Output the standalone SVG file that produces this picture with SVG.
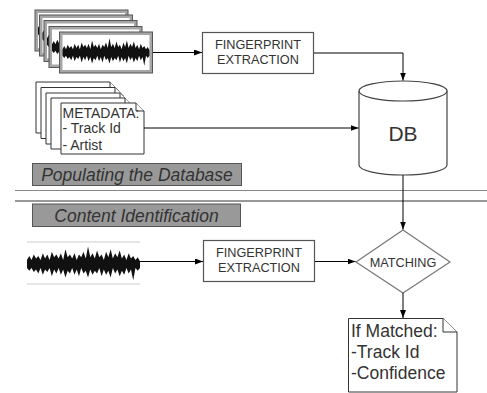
<svg xmlns="http://www.w3.org/2000/svg" xmlns:xlink="http://www.w3.org/1999/xlink" width="487" height="393" viewBox="0 0 487 393">
<style>
.lbl{font-family:"Liberation Sans",Arial,sans-serif;fill:#333}
.box{fill:#fff;stroke:#555;stroke-width:1.2}
.frame{fill:#a6a6a6;stroke:#555;stroke-width:1}
.doc{fill:#fff;stroke:#333;stroke-width:1}
.band{fill:#999;stroke:#555;stroke-width:1}
.conn{fill:none;stroke:#000;stroke-width:1}
.sec{font-family:"Liberation Sans",Arial,sans-serif;font-style:italic;font-size:17.5px;fill:#333;text-anchor:middle}
</style>
<defs>
<marker id="ah" markerWidth="8" markerHeight="6" refX="8" refY="3" orient="auto" markerUnits="userSpaceOnUse">
<path d="M0,0 L8,3 L0,6 Z" fill="#000"/>
</marker>
<path id="wave" fill="#111" d="M0,0 L0,-3 2,-6 4,-3 6,-7 8,-4 10,-6 12,-3 14,-8 16,-4 18,-7 20,-3 22,-9 24,-5 26,-7 28,-4 30,-8 32,-3 34,-11 36,-5 38,-7 40,-4 42,-8 44,-3 46,-7 48,-5 50,-9 52,-4 54,-13 56,-5 58,-8 60,-4 62,-10 64,-5 66,-7 68,-3 70,-9 72,-5 74,-11 76,-4 78,-8 80,-5 82,-10 84,-4 86,-7 88,-3 90,-8 92,-4 94,-6 96,-3 98,-5 100,-2 L100,3 98,5 96,3 94,12 92,4 90,7 88,3 86,8 84,5 82,9 80,4 78,7 76,3 74,10 72,5 70,8 68,4 66,9 64,3 62,7 60,5 58,8 56,4 54,10 52,5 50,7 48,3 46,9 44,4 42,8 40,3 38,7 36,5 34,10 32,4 30,8 28,3 26,7 24,4 22,9 20,3 18,6 16,4 14,8 12,3 10,7 8,4 6,6 4,3 2,5 0,3 Z"/>
</defs>

<g id="audio-stack">
<rect class="frame" x="35" y="10" width="93" height="41"/><rect x="38" y="13" width="87" height="35" fill="#fff"/><use xlink:href="#wave" transform="translate(38,31) scale(0.87,1.1)"/>
<rect class="frame" x="39.5" y="15" width="93" height="41"/><rect x="42.5" y="18" width="87" height="35" fill="#fff"/><use xlink:href="#wave" transform="translate(42.5,36) scale(0.87,1.1)"/>
<rect class="frame" x="44" y="20.5" width="93" height="41"/><rect x="47" y="23.5" width="87" height="35" fill="#fff"/><use xlink:href="#wave" transform="translate(47,41.5) scale(0.87,1.1)"/>
<rect class="frame" x="49" y="26.5" width="93" height="41"/><rect x="52" y="29.5" width="87" height="35" fill="#fff"/><use xlink:href="#wave" transform="translate(52,47.5) scale(0.87,1.1)"/>
<rect class="frame" x="59.5" y="32" width="93" height="41"/><rect x="62.5" y="35" width="87" height="35" fill="#fff"/><use xlink:href="#wave" transform="translate(62.5,52.5) scale(0.87,1.1)"/>
</g>

<g id="metadata-stack">
<path class="doc" d="M36,82 H110 L118,90 V133 H36 Z"/><path class="doc" d="M110,82 V90 H118"/>
<path class="doc" d="M41,87.5 H115 L123,95.5 V138.5 H41 Z"/><path class="doc" d="M115,87.5 V95.5 H123"/>
<path class="doc" d="M46,93 H120 L128,101 V144 H46 Z"/><path class="doc" d="M120,93 V101 H128"/>
<path class="doc" d="M51,98 H125 L133,106 V149 H51 Z"/><path class="doc" d="M125,98 V106 H133"/>
<path class="doc" d="M61,103 H136 L144,111 V154 H61 Z"/><path class="doc" d="M136,103 V111 H144"/>
<text class="lbl" x="62.5" y="117.5" font-size="14" fill="#222">METADATA:</text>
<text class="lbl" x="62.5" y="133" font-size="14">- Track Id</text>
<text class="lbl" x="62.5" y="149.5" font-size="14">- Artist</text>
</g>

<g id="fp1">
<rect class="box" x="202.5" y="32.5" width="111" height="41"/>
<text class="lbl" x="258" y="48.5" font-size="12.7" text-anchor="middle">FINGERPRINT</text>
<text class="lbl" x="258" y="64" font-size="12.7" text-anchor="middle">EXTRACTION</text>
</g>

<g id="db">
<path d="M359,91 V165 A44,10 0 0 0 447,165 V91" fill="#fff" stroke="#444" stroke-width="1.2"/>
<ellipse cx="403" cy="91" rx="44" ry="10" fill="#fff" stroke="#444" stroke-width="1.2"/>
<text class="lbl" x="403" y="140.5" font-size="21" text-anchor="middle" fill="#222">DB</text>
</g>

<g id="sections">
<rect class="band" x="32.5" y="163.5" width="209" height="22"/>
<text class="sec" x="137" y="181">Populating the Database</text>
<line x1="15" y1="190.5" x2="487" y2="190.5" stroke="#888" stroke-width="1.2"/>
<line x1="15" y1="201" x2="487" y2="201" stroke="#333" stroke-width="1.2"/>
<rect class="band" x="32.5" y="204" width="208" height="22.5"/>
<text class="sec" x="136.5" y="221.5">Content Identification</text>
</g>

<g id="audio-query">
<line x1="27" y1="242" x2="140" y2="242" stroke="#ccc" stroke-width="1"/>
<line x1="27" y1="284" x2="140" y2="284" stroke="#ccc" stroke-width="1"/>
<use xlink:href="#wave" transform="translate(27,264) scale(1.13,1.35)"/>
</g>

<g id="fp2">
<rect class="box" x="203.5" y="240.5" width="111" height="41"/>
<text class="lbl" x="259" y="256.5" font-size="12.7" text-anchor="middle">FINGERPRINT</text>
<text class="lbl" x="259" y="272" font-size="12.7" text-anchor="middle">EXTRACTION</text>
</g>

<g id="matching">
<path d="M403,230 L450,262 L403,293 L356,262 Z" fill="#fff" stroke="#777" stroke-width="1.2"/>
<text class="lbl" x="403" y="266.5" font-size="12.7" text-anchor="middle">MATCHING</text>
</g>

<g id="result">
<path class="doc" d="M348.5,318.5 H443 L457,332 V392 H348.5 Z"/><path class="doc" d="M443,318.5 V332 H457"/>
<text class="lbl" x="351" y="337" font-size="17.5" fill="#222">If Matched:</text>
<text class="lbl" x="351" y="358" font-size="17.5" fill="#222">-Track Id</text>
<text class="lbl" x="351" y="379" font-size="17.5" fill="#222">-Confidence</text>
</g>

<g id="connectors">
<path class="conn" d="M153,52.5 H202" marker-end="url(#ah)"/>
<path class="conn" d="M314,53 H403 V80.5" marker-end="url(#ah)"/>
<path class="conn" d="M144,128 H358.5" marker-end="url(#ah)"/>
<path class="conn" d="M403,175 V229.5" marker-end="url(#ah)"/>
<path class="conn" d="M140,261.5 H203" marker-end="url(#ah)"/>
<path class="conn" d="M315,261.5 H355.5" marker-end="url(#ah)"/>
<path class="conn" d="M403,293 V318" marker-end="url(#ah)"/>
</g>
</svg>
